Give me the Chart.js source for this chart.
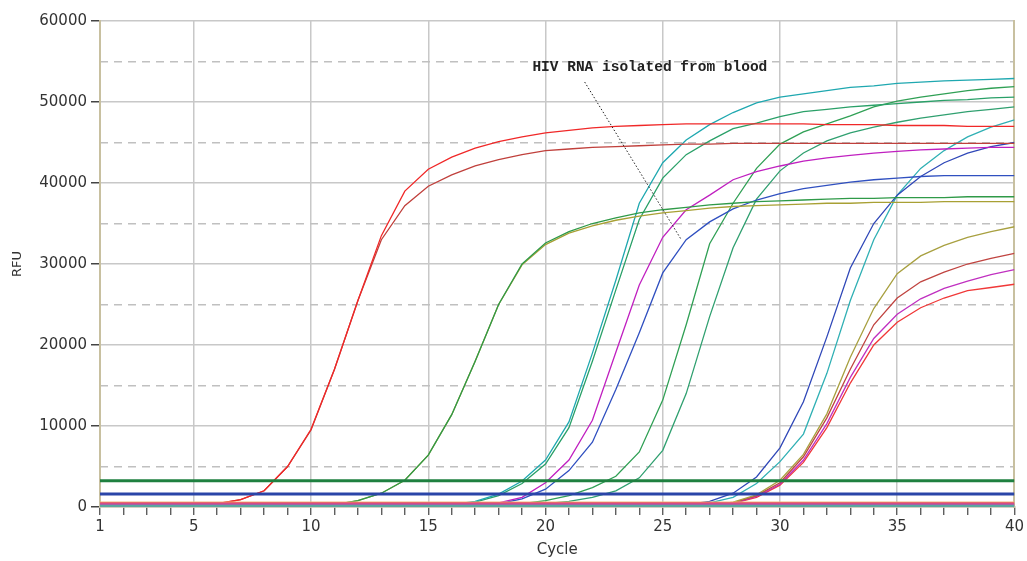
<!DOCTYPE html>
<html>
<head>
<meta charset="utf-8">
<script src="https://cdn.jsdelivr.net/npm/chart.js@4/dist/chart.umd.min.js"></script>
<style>
  html, body { margin: 0; padding: 0; background: #fff; }
  #wrap { width: 1027px; height: 561px; }
</style>
</head>
<body>
<div id="wrap"><canvas id="qpcr"></canvas></div>
<script>
// --- data ---
const cycles = [1,2,3,4,5,6,7,8,9,10,11,12,13,14,15,16,17,18,19,20,
                21,22,23,24,25,26,27,28,29,30,31,32,33,34,35,36,37,38,39,40];
const xTickLabels = [1,5,10,15,20,25,30,35,40];
const yTickLabels = [0,10000,20000,30000,40000,50000,60000];
const dashedLevels = [5000,15000,25000,35000,45000,55000];

// flat lines (threshold / baselines), drawn on top
const thrGreen = 3250;
const thrBlue = 1600;
const baseOrange = 550;
const baseRed = 420;
const baseMagenta = 280;
const baseTeal = 120;

// curves
const redA = [200,200,200,200,250,400,900,2000,5000,9600,
  17000,25500,33500,39000,41700,43200,44300,45100,45700,46200,
  46500,46800,47000,47100,47200,47300,47300,47300,47300,47300,
  47300,47200,47200,47200,47100,47100,47100,47000,47000,47000];
const brownB = [200,200,200,200,250,400,900,2000,5000,9500,
  17000,25500,33000,37200,39600,41000,42100,42900,43500,44000,
  44200,44400,44500,44600,44700,44800,44800,44900,44900,44900,
  44900,44900,44900,44900,44900,44900,44900,44900,44900,44900];
const greenC = [100,100,100,100,100,100,100,100,100,100,
  300,800,1700,3300,6400,11400,18000,25000,30000,32600,
  34000,35000,35700,36300,36700,37000,37300,37500,37700,37800,
  37900,38000,38100,38100,38200,38200,38200,38300,38300,38300];
const oliveD = [100,100,100,100,100,100,100,100,100,100,
  300,800,1700,3300,6400,11400,18000,25000,29900,32400,
  33800,34700,35400,35900,36300,36600,36900,37100,37200,37300,
  37400,37500,37500,37600,37600,37600,37700,37700,37700,37700];
const tealE = [150,150,150,150,150,150,150,150,150,150,
  150,150,150,150,150,300,700,1600,3200,5800,
  10500,19000,28000,37500,42500,45300,47200,48700,49900,50600,
  51000,51400,51800,52000,52300,52450,52600,52700,52800,52900];
const greenF = [150,150,150,150,150,150,150,150,150,150,
  150,150,150,150,150,250,600,1400,2900,5300,
  9800,18000,26800,35500,40600,43500,45200,46700,47400,48200,
  48800,49100,49400,49600,49800,50000,50200,50300,50500,50600];
const magentaG = [150,150,150,150,150,150,150,150,150,150,
  150,150,150,150,150,150,200,500,1200,3000,
  5800,10700,19100,27400,33300,36700,38500,40400,41400,42100,
  42700,43100,43400,43700,43900,44100,44200,44300,44400,44400];
const blueH = [150,150,150,150,150,150,150,150,150,150,
  150,150,150,150,150,150,150,400,1000,2200,
  4500,8000,14500,21500,28900,33000,35200,36800,37900,38700,
  39300,39700,40100,40400,40600,40800,40900,40900,40900,40900];
const greenI = [150,150,150,150,150,150,150,150,150,150,
  150,150,150,150,150,150,150,200,400,800,
  1400,2400,3800,6800,13200,22500,32500,37500,41800,44800,
  46300,47300,48300,49400,50100,50600,51000,51400,51700,51900];
const greenJ = [150,150,150,150,150,150,150,150,150,150,
  150,150,150,150,150,150,150,150,200,400,
  700,1200,2000,3600,7000,14000,23500,32000,38000,41500,
  43700,45200,46200,46900,47500,48000,48400,48800,49100,49400];
const blueK = [150,150,150,150,150,150,150,150,150,150,
  150,150,150,150,150,150,150,150,150,150,
  150,150,150,150,150,300,700,1700,3700,7300,
  13000,21000,29500,35000,38500,40800,42500,43700,44500,45000];
const cyanL = [150,150,150,150,150,150,150,150,150,150,
  150,150,150,150,150,150,150,150,150,150,
  150,150,150,150,150,200,500,1200,2900,5600,
  9000,16500,25500,33000,38500,41800,44000,45700,46900,47800];
const oliveM = [150,150,150,150,150,150,150,150,150,150,
  150,150,150,150,150,150,150,150,150,150,
  150,150,150,150,150,150,200,600,1500,3300,
  6500,11500,18500,24500,28800,31000,32300,33300,34000,34600];
const brownN = [150,150,150,150,150,150,150,150,150,150,
  150,150,150,150,150,150,150,150,150,150,
  150,150,150,150,150,150,150,500,1400,3000,
  6200,11000,17000,22500,25800,27800,29000,30000,30700,31300];
const magentaO = [150,150,150,150,150,150,150,150,150,150,
  150,150,150,150,150,150,150,150,150,150,
  150,150,150,150,150,150,150,450,1300,2800,
  5800,10300,16000,20800,23800,25700,27000,27900,28700,29300];
const redP = [150,150,150,150,150,150,150,150,150,150,
  150,150,150,150,150,150,150,150,150,150,
  150,150,150,150,150,150,150,450,1200,2700,
  5500,9800,15300,20000,22800,24600,25800,26700,27100,27500];

// annotation, in data units
const noteText = 'HIV RNA isolated from blood';
const notePos = [24.45, 54300];
const noteLine = [[21.67, 52470], [25.8, 32960]];

function pts(values) {
  return cycles.map((c, i) => ({ x: c, y: values[i] }));
}
function flat(v) {
  return cycles.map(c => ({ x: c, y: v }));
}
function line(data, color, width) {
  return { data: data, borderColor: color, borderWidth: width || 1.3,
           pointRadius: 0, fill: false, tension: 0 };
}

const datasets = [
  line(flat(thrGreen), '#1f8040', 3),
  line(flat(thrBlue), '#2a45a8', 3),
  line(flat(baseTeal), '#5aa8a0', 2.5),
  line(flat(baseMagenta), '#c04aa8', 2.5),
  line(flat(baseRed), '#e55068', 2.5),
  line(flat(baseOrange), '#f2b878', 2),
  line(pts(redA), '#f02828'),
  line(pts(brownB), '#c0403c'),
  line(pts(greenC), '#2f9a48'),
  line(pts(oliveD), '#a8a034'),
  line(pts(tealE), '#1fa8b0'),
  line(pts(greenF), '#2aa068'),
  line(pts(magentaG), '#c020c0'),
  line(pts(blueH), '#3050c0'),
  line(pts(greenI), '#30a055'),
  line(pts(greenJ), '#30a070'),
  line(pts(blueK), '#3048b8'),
  line(pts(cyanL), '#30b0b4'),
  line(pts(oliveM), '#a8a040'),
  line(pts(brownN), '#c04440'),
  line(pts(magentaO), '#c030c0'),
  line(pts(redP), '#f03838')
];

const notePlugin = {
  id: 'note',
  afterDatasetsDraw(chart) {
    const ctx = chart.ctx, sx = chart.scales.x, sy = chart.scales.y;
    ctx.save();
    ctx.strokeStyle = '#222';
    ctx.lineWidth = 1;
    ctx.setLineDash([1.5, 2]);
    ctx.beginPath();
    ctx.moveTo(sx.getPixelForValue(noteLine[0][0]), sy.getPixelForValue(noteLine[0][1]));
    ctx.lineTo(sx.getPixelForValue(noteLine[1][0]), sy.getPixelForValue(noteLine[1][1]));
    ctx.stroke();
    ctx.setLineDash([]);
    ctx.fillStyle = '#222';
    ctx.font = 'bold 14.5px "Liberation Mono", monospace';
    ctx.textAlign = 'center';
    ctx.textBaseline = 'middle';
    ctx.fillText(noteText, sx.getPixelForValue(notePos[0]), sy.getPixelForValue(notePos[1]));
    ctx.restore();
  }
};

const gridGray = '#c8c8c8';
const frameTan = '#c8c0a0';
const tickFont = { family: 'DejaVu Sans', size: 15 };

new Chart(document.getElementById('qpcr'), {
  type: 'line',
  data: { datasets: datasets },
  options: {
    responsive: true,
    maintainAspectRatio: false,
    animation: false,
    layout: { padding: { top: 21, right: 12, left: 0, bottom: 0 } },
    plugins: { legend: { display: false }, tooltip: { enabled: false } },
    scales: {
      x: {
        type: 'linear', min: 1, max: 40,
        afterFit: s => { s.height = 54; },
        ticks: {
          stepSize: 1, autoSkip: false, maxRotation: 0, padding: 3,
          color: '#333', font: tickFont,
          callback: v => xTickLabels.includes(v) ? String(v) : ''
        },
        grid: {
          color: c => (c.tick && xTickLabels.includes(c.tick.value) && c.tick.value > 1 && c.tick.value < 40) ? gridGray : 'rgba(0,0,0,0)',
          lineWidth: 1.5, tickColor: '#444', tickLength: 8, tickWidth: 1.2
        },
        border: { color: frameTan, width: 1.5 },
        title: { display: true, text: 'Cycle', color: '#333',
                 font: { family: 'DejaVu Sans', size: 15 }, padding: { top: 0, bottom: 2 } }
      },
      y: {
        type: 'linear', min: 0, max: 60000,
        afterFit: s => { s.width = 100; },
        ticks: {
          stepSize: 10000, color: '#333', font: tickFont, padding: 4,
          callback: v => yTickLabels.includes(v) ? String(v) : ''
        },
        grid: { color: gridGray, lineWidth: 1.5, tickColor: '#444', tickLength: 9, tickWidth: 1.5 },
        border: { color: frameTan, width: 2 },
        title: { display: true, text: 'RFU', color: '#333',
                 font: { family: 'DejaVu Sans', size: 13 }, padding: { top: 10, bottom: 4 } }
      },
      yDash: {
        type: 'linear', position: 'left', min: 0, max: 60000,
        afterFit: s => { s.width = 0; },
        afterBuildTicks: s => { s.ticks = dashedLevels.map(v => ({ value: v })); },
        ticks: { display: false },
        grid: { color: '#c0c0c0', lineWidth: 1.5, drawTicks: false },
        border: { display: false, dash: [8, 6] }
      },
      yRight: {
        type: 'linear', position: 'right', min: 0, max: 60000,
        afterFit: s => { s.width = 0; },
        ticks: { display: false },
        grid: { drawOnChartArea: false, drawTicks: false },
        border: { color: frameTan, width: 2 }
      }
    }
  },
  plugins: [notePlugin]
});
</script>
</body>
</html>
